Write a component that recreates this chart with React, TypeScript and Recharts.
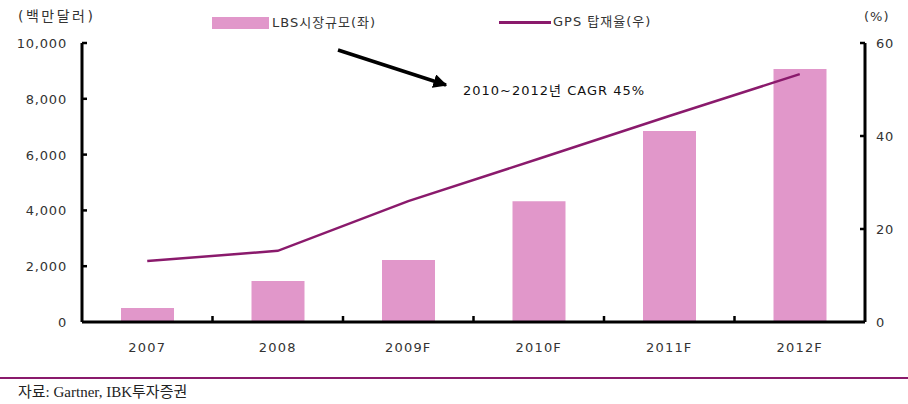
import React from "react";
import { ComposedChart, Bar, Line, XAxis, YAxis, Legend } from "recharts";

// 연도별 LBS 시장규모(백만달러)와 GPS 탑재율(%)
const years = ["2007", "2008", "2009F", "2010F", "2011F", "2012F"];
const lbsMarket = [500, 1470, 2220, 4330, 6850, 9070];
const gpsRate = [13.1, 15.3, 26.0, 35.1, 44.3, 53.3];
const leftTicks = [0, 2000, 4000, 6000, 8000, 10000];
const rightTicks = [0, 20, 40, 60];

const data = years.map((year, i) => ({ year, lbs: lbsMarket[i], gps: gpsRate[i] }));

const FONT = '"DejaVu Sans", "Noto Sans CJK KR", sans-serif';
const TEXT = "#333";
const PINK = "#e197ca";
const PLUM = "#8a1a6c";

const LeftTick = (props: any) => {
    const { x, y, payload } = props;
    return (
        <g>
            {payload.value !== 0 && (
                <line x1={x + 15} x2={x + 20} y1={y} y2={y} stroke="#000" strokeWidth={2.5} />
            )}
            <text x={x} y={y} dy={5} textAnchor="end" fontSize={13} letterSpacing={0.8} fill={TEXT} fontFamily={FONT}>
                {payload.value.toLocaleString("en-US")}
            </text>
        </g>
    );
};

const RightTick = (props: any) => {
    const { x, y, payload } = props;
    return (
        <g>
            {payload.value !== 0 && (
                <line x1={x - 11} x2={x - 16} y1={y} y2={y} stroke="#000" strokeWidth={2.5} />
            )}
            <text x={x} y={y} dy={5} textAnchor="start" fontSize={13} letterSpacing={0.8} fill={TEXT} fontFamily={FONT}>
                {payload.value}
            </text>
        </g>
    );
};

const CategoryTick = (props: any) => {
    const { x, y, payload } = props;
    const half = payload.offset ?? 0;
    return (
        <g>
            {payload.index > 0 && (
                <line x1={x - half} x2={x - half} y1={y - 19} y2={y - 25} stroke="#000" strokeWidth={2.5} />
            )}
            <text x={x} y={y} dy={11} textAnchor="middle" fontSize={13} letterSpacing={1.2} fill={TEXT} fontFamily={FONT}>
                {payload.value}
            </text>
        </g>
    );
};

const LegendContent = () => (
    <div style={{ position: "relative", width: 908, height: 30, fontFamily: FONT, fontSize: 13, letterSpacing: 1, color: TEXT }}>
        <div style={{ position: "absolute", left: 212, top: 17, width: 57, height: 12, background: PINK }} />
        <div style={{ position: "absolute", left: 272, top: 13, lineHeight: "20px" }}>LBS시장규모(좌)</div>
        <div style={{ position: "absolute", left: 499, top: 21, width: 52, height: 3, background: PLUM }} />
        <div style={{ position: "absolute", left: 553, top: 12, lineHeight: "20px" }}>GPS 탑재율(우)</div>
    </div>
);

export default function App() {
    return (
        <div style={{ position: "absolute", left: 0, top: 0, width: 908, height: 404, background: "#fff" }}>
            <ComposedChart
                width={908}
                height={404}
                data={data}
                margin={{ top: 13, right: 0, bottom: 40, left: 0 }}
            >
                <Legend
                    verticalAlign="top"
                    content={LegendContent}
                    wrapperStyle={{ position: "absolute", top: 0, left: 0, width: 908, height: 30 }}
                />
                <XAxis
                    dataKey="year"
                    height={42}
                    tickSize={0}
                    tickMargin={19}
                    tick={CategoryTick}
                    axisLine={{ stroke: "#000", strokeWidth: 3 }}
                />
                <YAxis
                    yAxisId="left"
                    width={82}
                    domain={[0, 10000]}
                    ticks={leftTicks}
                    tickSize={0}
                    tickMargin={15}
                    tick={LeftTick}
                    axisLine={{ stroke: "#000", strokeWidth: 3 }}
                />
                <YAxis
                    yAxisId="right"
                    orientation="right"
                    width={43}
                    domain={[0, 60]}
                    ticks={rightTicks}
                    tickSize={0}
                    tickMargin={11}
                    tick={RightTick}
                    axisLine={{ stroke: "#000", strokeWidth: 3 }}
                />
                <Bar yAxisId="left" dataKey="lbs" name="LBS시장규모(좌)" fill={PINK} barSize={53} isAnimationActive={false} />
                <Line
                    yAxisId="right"
                    dataKey="gps"
                    name="GPS 탑재율(우)"
                    stroke={PLUM}
                    strokeWidth={2.5}
                    dot={false}
                    isAnimationActive={false}
                />
            </ComposedChart>

            {/* units, annotation and source */}
            <svg width={908} height={404} style={{ position: "absolute", left: 0, top: 0, pointerEvents: "none" }}>
                <defs>
                    <marker id="head" viewBox="0 0 10 10" refX="9" refY="5" markerWidth="4" markerHeight="4" orient="auto">
                        <path d="M0,0 L10,5 L0,10 z" fill="#000" />
                    </marker>
                </defs>
                <text x={18} y={21} fontSize={14} letterSpacing={2.5} fill={TEXT} fontFamily={FONT}>(백만달러)</text>
                <text x={864} y={21} fontSize={13} letterSpacing={1} fill={TEXT} fontFamily={FONT}>(%)</text>
                <line x1={338} y1={50} x2={446} y2={85} stroke="#000" strokeWidth={3.5} markerEnd="url(#head)" />
                <text x={463} y={95} fontSize={13} letterSpacing={1} fill="#111" fontFamily={FONT}>2010~2012년 CAGR 45%</text>
                <line x1={0} x2={908} y1={378} y2={378} stroke={PLUM} strokeWidth={2} />
                <text x={18} y={397} fontSize={15} fill="#222" fontFamily='"Liberation Serif", "Noto Sans CJK KR", serif'>
                    자료: Gartner, IBK투자증권
                </text>
            </svg>
        </div>
    );
}
